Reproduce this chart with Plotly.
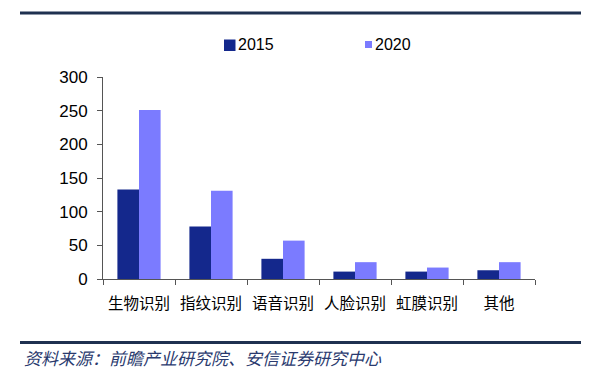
import plotly.graph_objects as go

categories = ["生物识别", "指纹识别", "语音识别", "人脸识别", "虹膜识别", "其他"]
values_2015 = [133, 78, 30, 11, 11, 13]
values_2020 = [251, 131, 57, 25, 17, 25]
series_names = ["2015", "2020"]
series_colors = ["#14288c", "#7b7bff"]
y_ticks = [0, 50, 100, 150, 200, 250, 300]

# page body has an 8px margin, so the figure starts at (8, 8)
OFF = 8
PL, PT, PW, PH = 103, 77, 432, 202  # plot area in window pixels


def px(x):
    return (x - PL) / PW


def py(y):
    return (PT + PH - y) / PH


fig = go.Figure()
for name, vals, col in zip(series_names, [values_2015, values_2020], series_colors):
    fig.add_trace(go.Bar(x=categories, y=vals, name=name, showlegend=False,
                         marker=dict(color=col, line=dict(width=0))))

shapes = [
    dict(type="line", xref="paper", yref="paper", x0=px(20), x1=px(581),
         y0=py(13), y1=py(13), line=dict(color="#1f3150", width=3)),
    dict(type="line", xref="paper", yref="paper", x0=px(20), x1=px(581),
         y0=py(342.5), y1=py(342.5), line=dict(color="#1f3150", width=3)),
    # legend swatches
    dict(type="rect", xref="paper", yref="paper", x0=px(224), x1=px(235.5),
         y0=py(51), y1=py(39.5), fillcolor=series_colors[0], line=dict(width=0)),
    dict(type="rect", xref="paper", yref="paper", x0=px(365), x1=px(372),
         y0=py(48), y1=py(41), fillcolor=series_colors[1], line=dict(width=0)),
]

annotations = [
    dict(text=series_names[0], xref="paper", yref="paper", x=px(236), y=py(44.5),
         xanchor="left", yanchor="middle", showarrow=False,
         font=dict(size=16, family="Liberation Sans, Arial", color="black")),
    dict(text=series_names[1], xref="paper", yref="paper", x=px(373), y=py(44.5),
         xanchor="left", yanchor="middle", showarrow=False,
         font=dict(size=16, family="Liberation Sans, Arial", color="black")),
    dict(text="<i>资料来源：前瞻产业研究院、安信证券研究中心</i>",
         xref="paper", yref="paper", x=px(22), y=py(357),
         xanchor="left", yanchor="middle", showarrow=False,
         font=dict(size=17, family="Noto Sans CJK SC", color="#2a3a6e")),
]

fig.update_layout(
    width=594 - OFF, height=377 - OFF,
    margin=dict(l=PL - OFF, r=594 - OFF - (PL - OFF) - PW, t=PT - OFF,
                b=377 - OFF - (PT - OFF) - PH, pad=0),
    paper_bgcolor="white", plot_bgcolor="white",
    barmode="group", bargap=0.4, bargroupgap=0,
    font=dict(family="Liberation Sans, Arial", color="black"),
    showlegend=False,
    xaxis=dict(showline=True, linecolor="#555555", linewidth=1,
               ticks="outside", tickson="boundaries", ticklen=5, tickcolor="#555555",
               tickfont=dict(size=15.5, family="Noto Sans CJK SC", color="black"),
               tickangle=0, ticklabelstandoff=10,
               showgrid=False, zeroline=False),
    yaxis=dict(range=[0, 300], tickvals=y_ticks, showline=True, linecolor="#555555",
               linewidth=1, ticks="outside", ticklen=5, tickcolor="#555555",
               tickfont=dict(size=17, family="Liberation Sans, Arial", color="black"),
               ticklabelstandoff=6,
               showgrid=False, zeroline=False),
    shapes=shapes,
    annotations=annotations,
)

fig.write_html("out.html")
